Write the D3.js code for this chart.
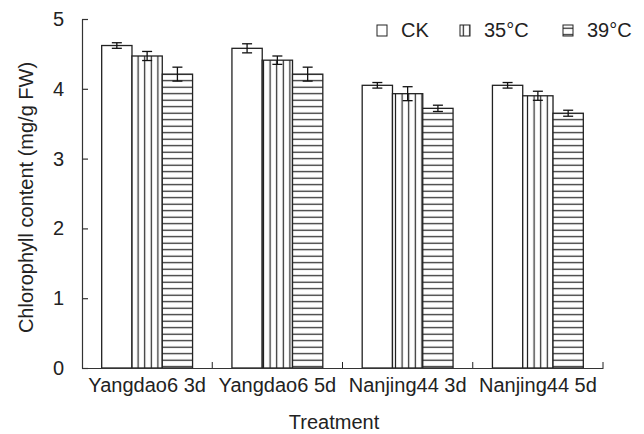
<!DOCTYPE html>
<html>
<head>
<meta charset="utf-8">
<script src="https://cdn.jsdelivr.net/npm/d3@7"></script>
<style>
  body { margin: 0; background: #fff; }
  text { font-family: "Liberation Sans", Arial, sans-serif; fill: #222; }
</style>
</head>
<body>
<svg id="chart"></svg>
<script>
// data
var categories = ["Yangdao6 3d", "Yangdao6 5d", "Nanjing44 3d", "Nanjing44 5d"];
var treatments = ["CK", "35°C", "39°C"];
var ckValues = [4.62, 4.58, 4.05, 4.05];
var ckErrors = [0.04, 0.065, 0.04, 0.04];
var t35Values = [4.47, 4.41, 3.93, 3.90];
var t35Errors = [0.065, 0.06, 0.10, 0.065];
var t39Values = [4.21, 4.21, 3.72, 3.65];
var t39Errors = [0.10, 0.10, 0.045, 0.043];
var yTicks = [0, 1, 2, 3, 4, 5];

var svgWidth = 644, svgHeight = 434;
var margin = { top: 19, right: 41, bottom: 66, left: 82 };
var width = svgWidth - margin.left - margin.right;
var height = svgHeight - margin.top - margin.bottom;
var ink = "#222";

var svg = d3.select("#chart")
  .attr("width", svgWidth)
  .attr("height", svgHeight);

// fill patterns: none, vertical lines, horizontal lines
var defs = svg.append("defs");
var vp = defs.append("pattern")
  .attr("id", "vlines")
  .attr("patternUnits", "userSpaceOnUse")
  .attr("width", 6.6).attr("height", 10);
vp.append("rect").attr("width", 6.6).attr("height", 10).attr("fill", "#fff");
vp.append("line").attr("x1", 3.3).attr("x2", 3.3).attr("y1", 0).attr("y2", 10)
  .attr("stroke", ink).attr("stroke-width", 1.2);

var hp = defs.append("pattern")
  .attr("id", "hlines")
  .attr("patternUnits", "userSpaceOnUse")
  .attr("width", 10).attr("height", 6.5);
hp.append("rect").attr("width", 10).attr("height", 6.5).attr("fill", "#fff");
hp.append("line").attr("x1", 0).attr("x2", 10).attr("y1", 3.2).attr("y2", 3.2)
  .attr("stroke", ink).attr("stroke-width", 1.2);

var fills = { "CK": "#fff", "35°C": "url(#vlines)", "39°C": "url(#hlines)" };

// build rows for drawing
var seriesValues = [ckValues, t35Values, t39Values];
var seriesErrors = [ckErrors, t35Errors, t39Errors];
var rows = [];
categories.forEach(function(c, i) {
  treatments.forEach(function(t, j) {
    rows.push({ cat: c, trt: t, value: seriesValues[j][i], err: seriesErrors[j][i] });
  });
});

var g = svg.append("g")
  .attr("transform", "translate(" + margin.left + "," + margin.top + ")");

var x0 = d3.scaleBand().domain(categories).range([0, width]).padding(0);
var x1 = d3.scaleBand().domain(treatments).range([0, x0.bandwidth()])
  .paddingInner(0).paddingOuter(0.65);
var y = d3.scaleLinear().domain([0, 5]).range([height, 0]);

// bars
g.selectAll("rect.bar")
  .data(rows)
  .enter().append("rect")
  .attr("class", "bar")
  .attr("x", function(d) { return x0(d.cat) + x1(d.trt); })
  .attr("y", function(d) { return y(d.value); })
  .attr("width", x1.bandwidth())
  .attr("height", function(d) { return height - y(d.value); })
  .attr("fill", function(d) { return fills[d.trt]; })
  .attr("stroke", ink)
  .attr("stroke-width", 1.3);

// error bars
var capW = 5;
var eb = g.selectAll("g.err")
  .data(rows)
  .enter().append("g")
  .attr("class", "err")
  .attr("stroke", "#111")
  .attr("stroke-width", 1.3);

eb.append("line")
  .attr("x1", function(d) { return x0(d.cat) + x1(d.trt) + x1.bandwidth() / 2; })
  .attr("x2", function(d) { return x0(d.cat) + x1(d.trt) + x1.bandwidth() / 2; })
  .attr("y1", function(d) { return y(d.value + d.err); })
  .attr("y2", function(d) { return y(d.value - d.err); });

[1, -1].forEach(function(s) {
  eb.append("line")
    .attr("x1", function(d) { return x0(d.cat) + x1(d.trt) + x1.bandwidth() / 2 - capW; })
    .attr("x2", function(d) { return x0(d.cat) + x1(d.trt) + x1.bandwidth() / 2 + capW; })
    .attr("y1", function(d) { return y(d.value + s * d.err); })
    .attr("y2", function(d) { return y(d.value + s * d.err); });
});

// y axis, ticks pointing inward
var yAxis = g.append("g")
  .call(d3.axisLeft(y).tickValues(yTicks).tickFormat(d3.format("d"))
    .tickSizeInner(-6).tickSizeOuter(0).tickPadding(18));
yAxis.selectAll("text").style("font-size", "20px").attr("fill", ink);

// x axis with category labels
var xAxis = g.append("g")
  .attr("transform", "translate(0," + height + ")")
  .call(d3.axisBottom(x0).tickSize(0).tickPadding(10).tickSizeOuter(0));
xAxis.selectAll("text").style("font-size", "20px").attr("fill", ink);

// boundary ticks between categories
g.selectAll("line.btick")
  .data(categories)
  .enter().append("line")
  .attr("class", "btick")
  .attr("x1", function(d) { return x0(d) + x0.bandwidth(); })
  .attr("x2", function(d) { return x0(d) + x0.bandwidth(); })
  .attr("y1", height)
  .attr("y2", height - 6)
  .attr("stroke", ink);

g.selectAll(".domain, .tick line").attr("stroke", "#333").attr("stroke-width", 1.2);

// axis titles
svg.append("text")
  .attr("x", 334)
  .attr("y", 429)
  .attr("text-anchor", "middle")
  .style("font-size", "20px")
  .text("Treatment");

svg.append("text")
  .attr("transform", "translate(33," + (margin.top + height / 2 + 4) + ") rotate(-90)")
  .attr("text-anchor", "middle")
  .style("font-size", "20px")
  .text("Chlorophyll content (mg/g FW)");

// legend
var legendX = [377, 460, 563];
var leg = svg.selectAll("g.legend")
  .data(treatments)
  .enter().append("g")
  .attr("class", "legend")
  .attr("transform", function(d, i) { return "translate(" + legendX[i] + ",25)"; });

leg.append("rect")
  .attr("width", 10).attr("height", 11)
  .attr("fill", function(d) { return fills[d]; })
  .attr("stroke", ink).attr("stroke-width", 1);

leg.append("text")
  .attr("x", 24)
  .attr("y", 11.5)
  .style("font-size", "20px")
  .text(function(d) { return d; });
</script>
</body>
</html>
